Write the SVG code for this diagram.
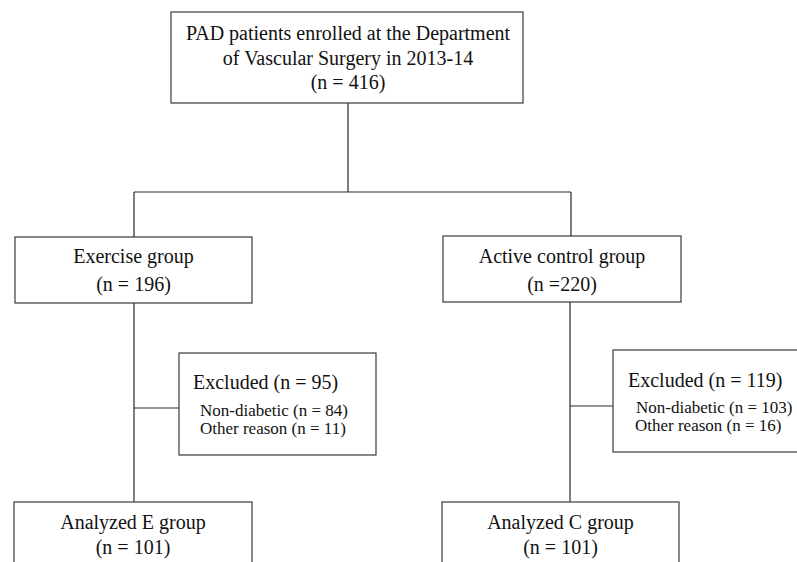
<svg xmlns="http://www.w3.org/2000/svg" width="797" height="562" viewBox="0 0 797 562">
<style>
.box{fill:#fff;stroke:#3a3a3a;stroke-width:1.2}
.ln{fill:none;stroke:#2a2a2a;stroke-width:1.2}
text{font-family:"Liberation Serif","Times New Roman",serif;fill:#111}
.m{font-size:20px;text-anchor:middle}
.e{font-size:20px}
.s{font-size:17px}
</style>
<rect width="797" height="562" fill="#fff"/>
<g id="connectors">
<path class="ln" d="M348,103 V192 M134,192 H571 M134,192 V237 M571,192 V236"/>
<path class="ln" d="M134,303 V502 M134,408 H179"/>
<path class="ln" d="M570,302 V502 M570,406 H613"/>
</g>
<g id="n_top">
<rect class="box" x="171" y="12" width="352" height="91"/>
<text class="m" x="348" y="40">PAD patients enrolled at the Department</text>
<text class="m" x="348" y="65">of Vascular Surgery in 2013-14</text>
<text class="m" x="348" y="89">(n = 416)</text>
</g>
<g id="n_exercise">
<rect class="box" x="15" y="237" width="237" height="66"/>
<text class="m" x="133.5" y="263">Exercise group</text>
<text class="m" x="133.5" y="291">(n = 196)</text>
</g>
<g id="n_control">
<rect class="box" x="443" y="236" width="238" height="66"/>
<text class="m" x="562" y="263">Active control group</text>
<text class="m" x="562" y="291">(n =220)</text>
</g>
<g id="n_excl_e">
<rect class="box" x="179" y="353" width="197" height="102"/>
<text class="e" x="193" y="389">Excluded (n = 95)</text>
<text class="s" x="200" y="416">Non-diabetic (n = 84)</text>
<text class="s" x="200" y="434">Other reason (n = 11)</text>
</g>
<g id="n_excl_c">
<rect class="box" x="613" y="350" width="190" height="102"/>
<text class="e" x="628" y="387">Excluded (n = 119)</text>
<text class="s" x="636" y="413">Non-diabetic (n = 103)</text>
<text class="s" x="635" y="431">Other reason (n = 16)</text>
</g>
<g id="n_anal_e">
<rect class="box" x="14" y="502" width="238" height="70"/>
<text class="m" x="133" y="529">Analyzed E group</text>
<text class="m" x="133" y="554">(n = 101)</text>
</g>
<g id="n_anal_c">
<rect class="box" x="442" y="502" width="237" height="70"/>
<text class="m" x="560.5" y="529">Analyzed C group</text>
<text class="m" x="560.5" y="554">(n = 101)</text>
</g>
</svg>
